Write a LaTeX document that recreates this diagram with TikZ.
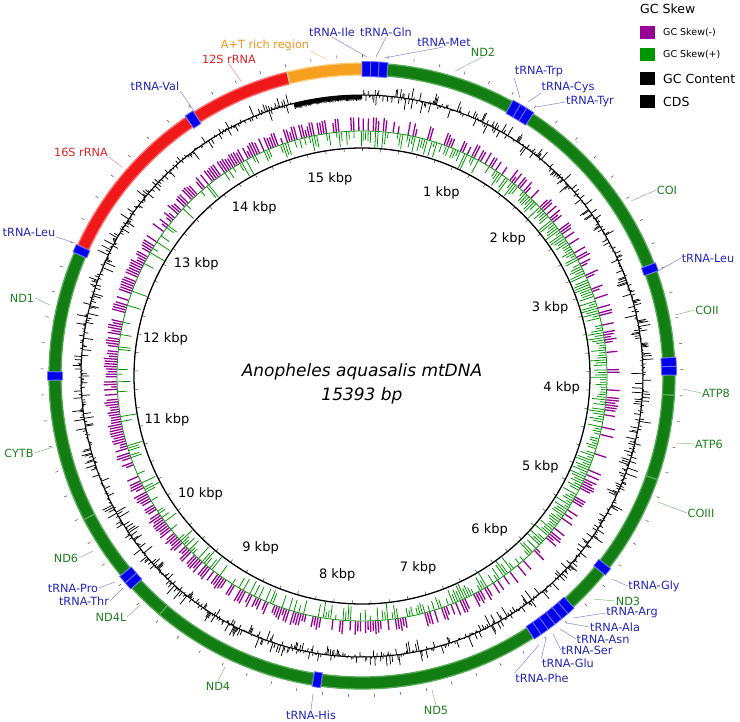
\documentclass[tikz,border=0pt]{standalone}
\usepackage{fontspec}
\setmainfont{DejaVu Sans}[ItalicFont={DejaVu Sans Oblique}]
\definecolor{ringG}{RGB}{18,125,18}
\definecolor{ringGl}{RGB}{85,170,85}
\definecolor{ringR}{RGB}{240,25,25}
\definecolor{ringRl}{RGB}{255,110,110}
\definecolor{ringO}{RGB}{245,160,30}
\definecolor{ringOl}{RGB}{255,205,120}
\definecolor{ringB}{RGB}{0,0,235}
\definecolor{ringBl}{RGB}{110,110,255}
\definecolor{txB}{RGB}{35,35,190}
\definecolor{txG}{RGB}{30,130,30}
\definecolor{txR}{RGB}{225,35,35}
\definecolor{txO}{RGB}{240,150,30}
\definecolor{skP}{RGB}{150,0,150}
\definecolor{skG}{RGB}{0,150,0}
\newcommand\gseg[5]{%
  \pgfmathsetmacro\gsA{-90+#1/15393*360}%
  \pgfmathsetmacro\gsB{-90+#2/15393*360}%
  \path[#3] (\gsA:#5) arc[start angle=\gsA, end angle=\gsB, radius=#5] -- (\gsB:#4) arc[start angle=\gsB, end angle=\gsA, radius=#4] -- cycle;}
\newcommand\mylab[8]{%
  \node[lbl,text=#5] (#1) at (#2,#3) {#4};
  \coordinate (#1e) at (#7,#8);
  \draw[#5!55!white, line width=0.5] (#1.#6) -- (#1e);}
\begin{document}
\begin{tikzpicture}[x=1pt,y=-1pt,
  lbl/.style={font=\fontsize{11.3}{13}\selectfont, inner sep=0.5pt},
  kb/.style={font=\fontsize{13}{15}\selectfont, inner sep=0pt},
  tickmark/.style={draw=black!70, line width=0.5},
  gene/.style={fill=ringG, draw=ringGl, line width=1.3},
  rrna/.style={fill=ringR, draw=ringRl, line width=1.3},
  atr/.style={fill=ringO, draw=ringOl, line width=1.3},
  trna/.style={fill=ringB, draw=ringBl, line width=0.8},
  gcline/.style={black, line width=0.75},
  sq/.style={minimum width=15pt, minimum height=13pt, inner sep=0pt, draw=none},
  legs/.style={font=\fontsize{9.5}{11}\selectfont, anchor=west, inner sep=0pt},
  legb/.style={font=\fontsize{12.5}{14}\selectfont, anchor=west, inner sep=0pt}]
\useasboundingbox (0,0) rectangle (740,722);
\fill[white] (0,0) rectangle (740,722);
\begin{scope}[shift={(362,376)}]
  % ticks
  \foreach \k in {0,...,76}{
    \pgfmathsetmacro\tkA{-90+\k*200/15393*360}
    \draw[tickmark] (\tkA:228) -- (\tkA:224.5);
    \draw[tickmark] (\tkA:318.5) -- (\tkA:321.5);
  }
  \draw[line width=1.3] (0,0) circle[radius=228];
  % GC skew
  \draw[skG, line width=0.8] (0,0) circle[radius=245];
  \pgfmathsetseed{4242}
  \foreach \i in {0,...,615}{
    \pgfmathsetmacro\skA{-90+(\i*25+12)/15393*360}
    \pgfmathsetmacro\skS{sin(\skA+90)}
    \pgfmathsetmacro\skP{ifthenelse(rnd<(0.58-0.3*\skS), 259-9*rnd*rnd, 245.5)}
    \pgfmathsetmacro\skQ{ifthenelse(rnd<(0.55+0.3*\skS), 240-12*rnd, 244.5)}
    \draw[skP, line width=1.3] (\skA:245.5) -- (\skA:\skP);
    \draw[skG, line width=0.8] (\skA:244.5) -- (\skA:\skQ);
  }
  % GC content
  \draw[black, line width=1] (0,0) circle[radius=281];
  \gseg{14790}{15393}{fill=black}{277}{281}
  \pgfmathsetseed{99}
  \foreach \i in {0,...,1538}{
    \pgfmathsetmacro\gcP{\i*10+5}
    \pgfmathsetmacro\gcA{-90+\gcP/15393*360}
    \pgfmathsetmacro\gcV{rand}
    \pgfmathsetmacro\gcR{ifthenelse(\gcP>14790, 276.5-1.5*rnd, 281+3*\gcV+9*\gcV*\gcV*\gcV*\gcV*\gcV)}
    \draw[gcline] (\gcA:281) -- (\gcA:\gcR);
  }
  % genes
  \gseg{203}{1228}{gene}{301}{313}
  \gseg{1416}{2945}{gene}{301}{313}
  \gseg{3012}{3703}{gene}{301}{313}
  \gseg{3841}{4000}{gene}{301}{313}
  \gseg{4000}{4676}{gene}{301}{313}
  \gseg{4676}{5462}{gene}{301}{313}
  \gseg{5530}{5882}{gene}{301}{313}
  \gseg{6277}{8020}{gene}{301}{313}
  \gseg{8087}{9421}{gene}{301}{313}
  \gseg{9421}{9719}{gene}{301}{313}
  \gseg{9852}{10378}{gene}{301}{313}
  \gseg{10378}{11511}{gene}{301}{313}
  \gseg{11579}{12537}{gene}{301}{313}
  \gseg{12603}{13930}{rrna}{301}{313}
  \gseg{14003}{14800}{rrna}{301}{313}
  \gseg{14801}{15393}{atr}{301}{313}
  % tRNAs
  \foreach \ta/\tb in {0/68,68/134,134/202,1228/1294,1294/1351,1351/1416,2946/3011,3703/3772,3773/3840,5463/5529,5882/5947,5947/6011,6012/6078,6078/6145,6145/6212,6212/6276,8021/8086,9720/9785,9786/9851,11512/11578,12538/12602,13931/14002}{
    \gseg{\ta}{\tb}{trna}{299.5}{314.5}
  }
  % kbp labels
  \foreach \k in {1,...,15}{
    \pgfmathsetmacro\kbA{-90+\k*1000/15393*360}
    \node[kb] (k\k) at (\kbA:200) {\k\ kbp};
  }
\end{scope}
% feature labels
\mylab{lIle}{332}{32}{tRNA-Ile}{txB}{south}{367}{57}
\mylab{lGln}{386}{32}{tRNA-Gln}{txB}{south}{376}{57}
\mylab{lMet}{444}{42}{tRNA-Met}{txB}{south}{384}{58}
\mylab{lNDtwo}{483}{52}{ND2}{txG}{south}{455}{71}
\mylab{lAT}{265}{45}{A+T rich region}{txO}{south east}{327}{59}
\mylab{lSSU}{229}{59}{12S rRNA}{txR}{south}{241}{81}
\mylab{lVal}{155}{86}{tRNA-Val}{txB}{south east}{195}{112}
\mylab{lLSU}{81}{152}{16S rRNA}{txR}{south east}{122}{167}
\mylab{lLeuL}{29}{232}{tRNA-Leu}{txB}{south east}{75}{243}
\mylab{lNDone}{22}{298}{ND1}{txG}{east}{50}{305}
\mylab{lCYTB}{19}{453}{CYTB}{txG}{east}{53}{447}
\mylab{lNDsix}{66}{558}{ND6}{txG}{east}{93}{551}
\mylab{lPro}{73}{588}{tRNA-Pro}{txB}{east}{115}{582}
\mylab{lThr}{84}{601}{tRNA-Thr}{txB}{east}{123}{588}
\mylab{lNDfourL}{111}{617}{ND4L}{txG}{east}{140}{605}
\mylab{lNDfour}{218}{686}{ND4}{txG}{north}{225}{667}
\mylab{lHis}{311}{715}{tRNA-His}{txB}{north}{313}{694}
\mylab{lNDfive}{436}{710}{ND5}{txG}{north}{432}{690}
\mylab{lGly}{654}{586}{tRNA-Gly}{txB}{west}{612}{579}
\mylab{lNDthree}{628}{601}{ND3}{txG}{west}{593}{599}
\mylab{lArg}{632}{613}{tRNA-Arg}{txB}{west}{573}{618}
\mylab{lAla}{615}{627}{tRNA-Ala}{txB}{west}{567}{623}
\mylab{lAsn}{603}{639}{tRNA-Asn}{txB}{west}{560}{629}
\mylab{lSer}{587}{650}{tRNA-Ser}{txB}{west}{553}{634}
\mylab{lGlu}{568}{663}{tRNA-Glu}{txB}{north west}{546}{639}
\mylab{lPhe}{542}{678}{tRNA-Phe}{txB}{north west}{539}{645}
\mylab{lLeuR}{708}{258}{tRNA-Leu}{txB}{west}{658}{271}
\mylab{lCOII}{707}{310}{COII}{txG}{west}{675}{315}
\mylab{lATPe}{716}{393}{ATP8}{txG}{west}{683}{389}
\mylab{lATPs}{709}{444}{ATP6}{txG}{west}{676}{443}
\mylab{lCOIII}{701}{513}{COIII}{txG}{west}{658}{502}
\mylab{lCOI}{667}{190}{COI}{txG}{west}{631}{201}
\mylab{lTrp}{539}{72}{tRNA-Trp}{txB}{south west}{520}{98}
\mylab{lCys}{568}{87}{tRNA-Cys}{txB}{south west}{528}{102}
\mylab{lTyr}{590}{102}{tRNA-Tyr}{txB}{west}{536}{107}
% centre title
\node[font=\fontsize{17}{20}\selectfont\itshape, inner sep=0pt] (ttl) at (362,372) {Anopheles aquasalis mtDNA};
\node[font=\fontsize{17}{20}\selectfont\itshape, inner sep=0pt] (tlen) at (362,396) {15393 bp};
% legend
\node[legb] (lgT) at (640,9) {GC Skew};
\node[sq, fill=skP] (lgsA) at (647.5,33) {};
\node[legs] (lgtA) at (663,33) {GC Skew(-)};
\node[sq, fill=skG] (lgsB) at (647.5,55) {};
\node[legs] (lgtB) at (663,55) {GC Skew(+)};
\node[sq, fill=black] (lgsC) at (647.5,79) {};
\node[legb] (lgtC) at (663,79) {GC Content};
\node[sq, fill=black] (lgsD) at (647.5,102) {};
\node[legb] (lgtD) at (663,102) {CDS};
\end{tikzpicture}
\end{document}
